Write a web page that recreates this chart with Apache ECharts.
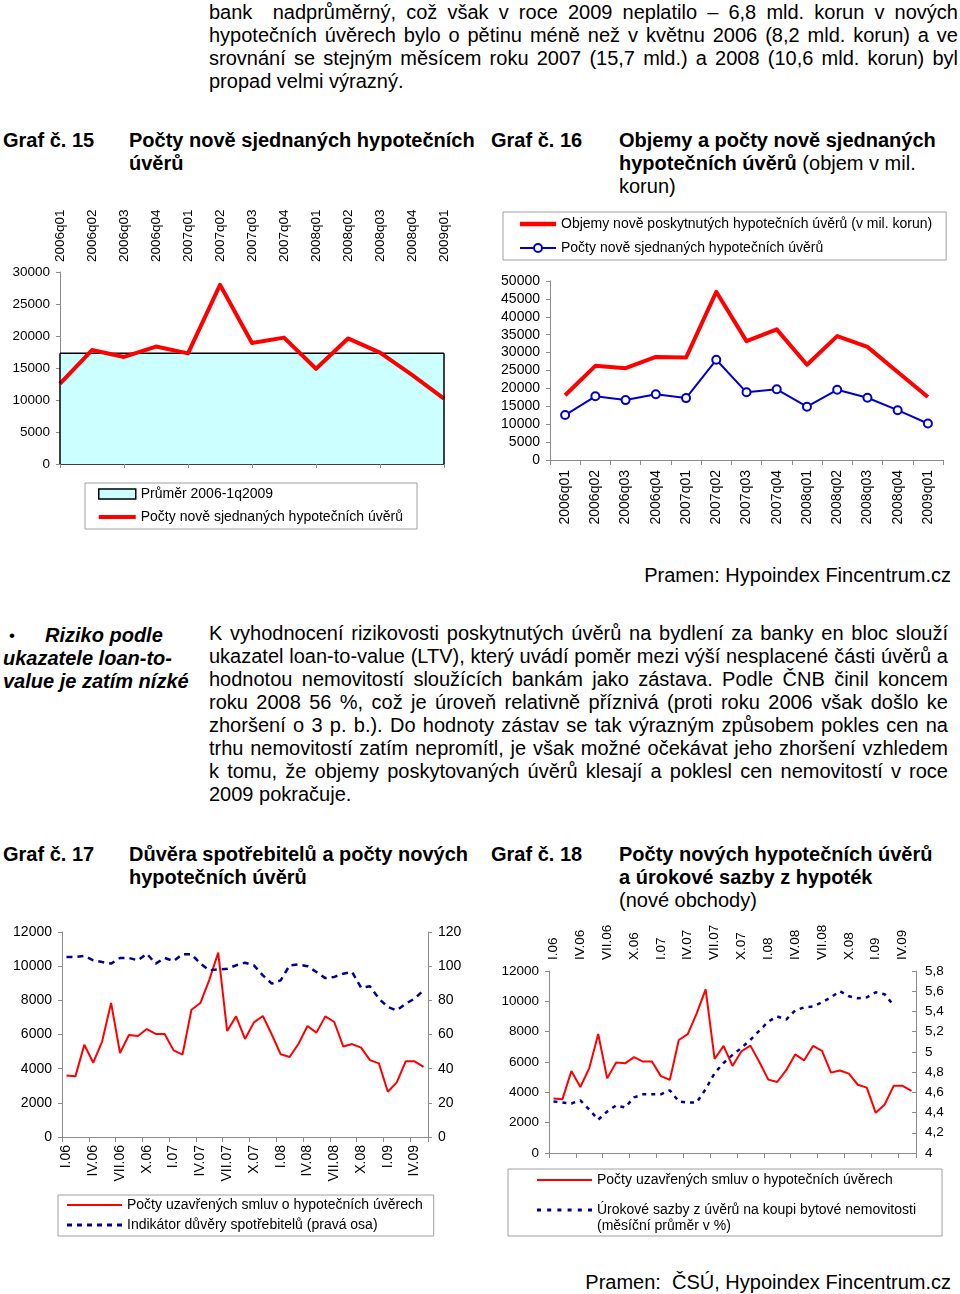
<!DOCTYPE html>
<html lang="cs"><head><meta charset="utf-8">
<title>Hypoteční úvěry</title>
<script src="https://cdn.jsdelivr.net/npm/echarts@6.0.0/dist/echarts.min.js"></script>
<style>
html,body{margin:0;padding:0}
body{width:960px;height:1294px;position:relative;background:#fff;font-family:'Liberation Sans',Arial,sans-serif;color:#000;overflow:hidden}
.t{position:absolute;font-size:20px;line-height:23px;white-space:nowrap}
.b{font-weight:bold}
.bi{font-weight:bold;font-style:italic}
.p{position:absolute;font-size:20px;line-height:23px}
.p div{height:23px;overflow:visible}
.p div.j{text-align:justify;text-align-last:justify}
.c{position:absolute}
</style></head><body>

<div class="p" style="left:209px;top:1px;width:749px">
<div class="j">bank&nbsp; nadprůměrný, což však v roce 2009 neplatilo – 6,8 mld. korun v nových</div>
<div class="j">hypotečních úvěrech bylo o pětinu méně než v květnu 2006 (8,2 mld. korun) a ve</div>
<div class="j">srovnání se stejným měsícem roku 2007 (15,7 mld.) a 2008 (10,6 mld. korun) byl</div>
<div>propad velmi výrazný.</div>
</div>

<div class="t b" style="left:3px;top:129px">Graf č. 15</div>
<div class="t b" style="left:129px;top:129px">Počty nově sjednaných hypotečních<br>úvěrů</div>
<div class="t b" style="left:491px;top:129px">Graf č. 16</div>
<div class="t" style="left:619px;top:129px"><span class="b">Objemy a počty nově sjednaných<br>hypotečních úvěrů</span> (objem v mil.<br>korun)</div>

<div id="c15" class="c" style="left:0;top:190px;width:480px;height:345px"></div>
<div id="c16" class="c" style="left:490px;top:200px;width:470px;height:335px"></div>

<div class="t" style="right:9px;top:564px">Pramen: Hypoindex Fincentrum.cz</div>

<div class="t" style="left:9px;top:624px;font-size:17px">•</div>
<div class="t bi" style="left:45px;top:624px">Riziko podle</div>
<div class="t bi" style="left:3px;top:647px">ukazatele loan-to-</div>
<div class="t bi" style="left:3px;top:670px">value je zatím nízké</div>

<div class="p" style="left:209px;top:622px;width:739px">
<div class="j">K vyhodnocení rizikovosti poskytnutých úvěrů na bydlení za banky en bloc slouží</div>
<div class="j">ukazatel loan-to-value (LTV), který uvádí poměr mezi výší nesplacené části úvěrů a</div>
<div class="j">hodnotou nemovitostí sloužících bankám jako zástava. Podle ČNB činil koncem</div>
<div class="j">roku 2008 56 %, což je úroveň relativně příznivá (proti roku 2006 však došlo ke</div>
<div class="j">zhoršení o 3 p. b.). Do hodnoty zástav se tak výrazným způsobem pokles cen na</div>
<div class="j">trhu nemovitostí zatím nepromítl, je však možné očekávat jeho zhoršení vzhledem</div>
<div class="j">k tomu, že objemy poskytovaných úvěrů klesají a poklesl cen nemovitostí v roce</div>
<div>2009 pokračuje.</div>
</div>

<div class="t b" style="left:3px;top:843px">Graf č. 17</div>
<div class="t b" style="left:129px;top:843px">Důvěra spotřebitelů a počty nových<br>hypotečních úvěrů</div>
<div class="t b" style="left:491px;top:843px">Graf č. 18</div>
<div class="t" style="left:619px;top:843px"><span class="b">Počty nových hypotečních úvěrů<br>a úrokové sazby z hypoték</span><br>(nové obchody)</div>

<div id="c17" class="c" style="left:0;top:910px;width:480px;height:335px"></div>
<div id="c18" class="c" style="left:490px;top:910px;width:470px;height:355px"></div>

<div class="t" style="right:9px;top:1271px">Pramen:&nbsp; ČSÚ, Hypoindex Fincentrum.cz</div>

<script>
// ---------- data ----------
const quarters = ['2006q01','2006q02','2006q03','2006q04','2007q01','2007q02','2007q03','2007q04','2008q01','2008q02','2008q03','2008q04','2009q01'];
const quarterlyCounts = [12550, 17800, 16730, 18350, 17290, 28000, 18900, 19750, 14880, 19620, 17400, 13920, 10200];
const quarterlyVolumes = [18100, 26300, 25650, 28800, 28600, 47000, 33200, 36500, 26600, 34600, 31600, 24600, 17600];
const averageCount = [17320, 17320, 17320, 17320, 17320, 17320, 17320, 17320, 17320, 17320, 17320, 17320, 17320];

const months = ['I.06','II.06','III.06','IV.06','V.06','VI.06','VII.06','VIII.06','IX.06','X.06','XI.06','XII.06',
  'I.07','II.07','III.07','IV.07','V.07','VI.07','VII.07','VIII.07','IX.07','X.07','XI.07','XII.07',
  'I.08','II.08','III.08','IV.08','V.08','VI.08','VII.08','VIII.08','IX.08','X.08','XI.08','XII.08',
  'I.09','II.09','III.09','IV.09','V.09'];
const monthlyContracts = [3600, 3550, 5400, 4350, 5600, 7850, 4920, 5970, 5910, 6320, 6030, 6030,
  5070, 4820, 7450, 7840, 9200, 10790, 6200, 7060, 5740, 6710, 7080, 6000,
  4840, 4680, 5460, 6500, 6110, 7060, 6730, 5300, 5440, 5230, 4500, 4310,
  2650, 3200, 4430, 4430, 4100];
const consumerConfidence = [105.4, 105.4, 106, 103.4, 102.4, 101.5, 104.8, 104.8, 103.4, 107.3, 101.5, 104.8,
  103, 107, 107, 101.5, 97.6, 98.1, 98.5, 100.5, 102, 100.5, 94.6, 89.8,
  91.7, 100.5, 101, 100, 96.6, 93, 93.7, 95.6, 96.6, 87.4, 88.2, 81,
  76.1, 74.1, 78, 81, 85.9];
const mortgageRates = [4.51, 4.50, 4.49, 4.52, 4.43, 4.33, 4.41, 4.47, 4.45, 4.55, 4.58, 4.58,
  4.58, 4.62, 4.51, 4.50, 4.50, 4.63, 4.79, 4.89, 4.97, 5.04, 5.12, 5.21,
  5.30, 5.35, 5.32, 5.41, 5.44, 5.45, 5.49, 5.54, 5.60, 5.55, 5.53, 5.54,
  5.59, 5.57, 5.46, null, null];

// ---------- helpers ----------
const FONT = 'Liberation Sans';
const AX = '#8c8c8c';
const RED = '#FF0000';
const BLUE = '#0000CC';
const NAVY = '#000099';
function lbl(size, extra){
  return Object.assign({color:'#000', fontSize:size, fontFamily:FONT, margin:10, formatter: v => String(v)}, extra || {});
}
function valAxis(o, size){
  return Object.assign({type:'value', splitLine:{show:false},
    axisLine:{show:true, lineStyle:{color:AX}},
    axisTick:{show:true, length:4, lineStyle:{color:AX}},
    axisLabel:lbl(size)}, o);
}
function legendBox(o){
  return Object.assign({orient:'vertical', borderColor:'#a0a0a0', borderWidth:1, borderRadius:0,
    backgroundColor:'#fff', itemGap:8, itemWidth:40, itemHeight:10, selectedMode:false,
    symbolKeepAspect:true, align:'left',
    textStyle:{color:'#000', fontSize:14, fontFamily:FONT, lineHeight:16}}, o);
}
function solidIcon(w,h){ return 'path://M0,0H'+w+'V'+h+'H0Z'; }
// dashed icon; optional "extent" adds an invisible speck so the dashes sit near the top of the icon box
function dashIcon(w,h,d,g,extent){
  let p = 'path://';
  for (let x = 0; x < w; x += d + g) { const e = Math.min(x + d, w); p += 'M'+x+',0H'+e+'V'+h+'H'+x+'Z'; }
  if (extent) p += 'M0,'+extent+'H0.01V'+(extent+0.01)+'H0Z';
  return p;
}
const base = {animation:false, textStyle:{fontFamily:FONT, color:'#000'}};

// ---------- Graf 15 ----------
const c15 = echarts.init(document.getElementById('c15'));
c15.setOption(Object.assign({}, base, {
  grid:{left:60, top:82, width:384, height:192, containLabel:false, outerBoundsMode:'none'},
  legend: legendBox({left:85, top:293, padding:[3,14,4,13], itemGap:7, itemWidth:37,
    data:[
      {name:'Průměr 2006-1q2009', icon:'rect', itemStyle:{color:'#CCFFFF', borderColor:'#000', borderWidth:1.5}},
      {name:'Počty nově sjednaných hypotečních úvěrů', icon:solidIcon(40,4.5), itemStyle:{color:RED, borderWidth:0}}
    ]}),
  xAxis:[
    {type:'category', data:quarters, position:'top', boundaryGap:false,
      axisLine:{show:false}, axisTick:{show:false},
      axisLabel:lbl(13.5, {rotate:90, interval:0, margin:10})},
    {type:'category', data:quarters, position:'bottom', boundaryGap:false,
      axisLine:{show:true, lineStyle:{color:'#000', width:1.5}},
      axisTick:{show:true, length:4, lineStyle:{color:AX}}, axisLabel:{show:false}}
  ],
  yAxis: valAxis({min:0, max:30000, interval:5000}, 13.5),
  series:[
    {name:'Průměr 2006-1q2009', type:'line', data:averageCount, symbol:'none',
      lineStyle:{color:'#000', width:1.5}, itemStyle:{color:'#CCFFFF'},
      areaStyle:{color:'#CCFFFF', opacity:1},
      markLine:{silent:true, symbol:['none','none'], label:{show:false},
        lineStyle:{color:'#000', width:1.5, type:'solid'},
        data:[
          [{coord:[quarters[0], 0]}, {coord:[quarters[0], averageCount[0]]}],
          [{coord:[quarters[quarters.length-1], 0]}, {coord:[quarters[quarters.length-1], averageCount[averageCount.length-1]]}]
        ]}},
    {name:'Počty nově sjednaných hypotečních úvěrů', type:'line', data:quarterlyCounts, symbol:'none',
      lineStyle:{color:RED, width:4, join:'round'}, itemStyle:{color:RED}, z:3}
  ]
}));

// ---------- Graf 16 ----------
const c16 = echarts.init(document.getElementById('c16'));
c16.setOption(Object.assign({}, base, {
  grid:{left:60, top:81, width:393, height:179, containLabel:false, outerBoundsMode:'none'},
  legend: legendBox({left:13, top:12, padding:[4,14,4,16], itemGap:8, itemWidth:36,
    data:[
      {name:'Objemy nově poskytnutých hypotečních úvěrů (v mil. korun)', icon:solidIcon(36,4.5), itemStyle:{color:RED, borderWidth:0}},
      {name:'Počty nově sjednaných hypotečních úvěrů'}
    ]}),
  xAxis:{type:'category', data:quarters, boundaryGap:true,
    axisLine:{show:true, lineStyle:{color:AX}},
    axisTick:{show:true, length:5, lineStyle:{color:AX}},
    axisLabel:lbl(14, {rotate:90, interval:0, margin:10})},
  yAxis: valAxis({min:0, max:50000, interval:5000}, 14),
  series:[
    {name:'Objemy nově poskytnutých hypotečních úvěrů (v mil. korun)', type:'line', data:quarterlyVolumes, symbol:'none',
      lineStyle:{color:RED, width:4, join:'round'}, itemStyle:{color:RED}},
    {name:'Počty nově sjednaných hypotečních úvěrů', type:'line', data:quarterlyCounts,
      symbol:'emptyCircle', symbolSize:8, showSymbol:true,
      lineStyle:{color:BLUE, width:2}, itemStyle:{color:BLUE, borderColor:BLUE, borderWidth:2}}
  ]
}));

// ---------- Graf 17 ----------
const c17 = echarts.init(document.getElementById('c17'));
c17.setOption(Object.assign({}, base, {
  grid:{left:62, top:22, width:366, height:205, containLabel:false, outerBoundsMode:'none'},
  legend: legendBox({left:58, top:285, padding:[2,11,3,9], itemGap:4, itemWidth:55,
    data:[
      {name:'Počty uzavřených smluv o hypotečních úvěrech', icon:solidIcon(55,2.2), itemStyle:{color:RED, borderWidth:0}},
      {name:'Indikátor důvěry spotřebitelů (pravá osa)', icon:dashIcon(55,3,5,5), itemStyle:{color:NAVY, borderWidth:0}}
    ]}),
  xAxis:{type:'category', data:months, boundaryGap:true,
    axisLine:{show:true, lineStyle:{color:AX}},
    axisTick:{show:true, interval:2, length:5, lineStyle:{color:AX}},
    axisLabel:lbl(14, {rotate:90, interval:2, margin:8})},
  yAxis:[
    valAxis({min:0, max:12000, interval:2000}, 14),
    valAxis({min:0, max:120, interval:20, position:'right'}, 14)
  ],
  series:[
    {name:'Počty uzavřených smluv o hypotečních úvěrech', type:'line', data:monthlyContracts, symbol:'none',
      lineStyle:{color:RED, width:2}, itemStyle:{color:RED}, yAxisIndex:0},
    {name:'Indikátor důvěry spotřebitelů (pravá osa)', type:'line', data:consumerConfidence, symbol:'none',
      lineStyle:{color:NAVY, width:2.5, type:[6,5]}, itemStyle:{color:NAVY}, yAxisIndex:1}
  ]
}));

// ---------- Graf 18 ----------
const c18 = echarts.init(document.getElementById('c18'));
c18.setOption(Object.assign({}, base, {
  grid:{left:59, top:61, width:367, height:182, containLabel:false, outerBoundsMode:'none'},
  legend: legendBox({left:18, top:259, padding:[3,26,2,29], itemGap:14, itemWidth:55, itemHeight:20,
    data:[
      {name:'Počty uzavřených smluv o hypotečních úvěrech', icon:solidIcon(55,2.2), itemStyle:{color:RED, borderWidth:0}},
      {name:'Úrokové sazby z úvěrů na koupi bytové nemovitosti\n(měsíční průměr v %)', icon:dashIcon(55,3,4,6.2,19),
        itemStyle:{color:NAVY, borderWidth:0}}
    ]}),
  xAxis:[
    {type:'category', data:months, position:'top', boundaryGap:true,
      axisLine:{show:false}, axisTick:{show:false},
      axisLabel:lbl(13.5, {rotate:90, interval:2, margin:11})},
    {type:'category', data:months, position:'bottom', boundaryGap:true,
      axisLine:{show:true, lineStyle:{color:AX}},
      axisTick:{show:true, interval:2, length:5, lineStyle:{color:AX}}, axisLabel:{show:false}}
  ],
  yAxis:[
    valAxis({min:0, max:12000, interval:2000}, 13.5),
    valAxis({min:4, max:5.8, interval:0.2, position:'right',
      axisTick:{show:true, inside:true, length:4, lineStyle:{color:AX}},
      axisLabel:lbl(13.5, {margin:9, formatter: v => String(Math.round(v*10)/10).replace('.', ',')})}, 13.5)
  ],
  series:[
    {name:'Počty uzavřených smluv o hypotečních úvěrech', type:'line', data:monthlyContracts, symbol:'none',
      lineStyle:{color:RED, width:2}, itemStyle:{color:RED}, yAxisIndex:0},
    {name:'Úrokové sazby z úvěrů na koupi bytové nemovitosti\n(měsíční průměr v %)', type:'line', data:mortgageRates, symbol:'none',
      lineStyle:{color:NAVY, width:2.5, type:[4,5]}, itemStyle:{color:NAVY}, yAxisIndex:1}
  ]
}));
</script>
</body></html>
